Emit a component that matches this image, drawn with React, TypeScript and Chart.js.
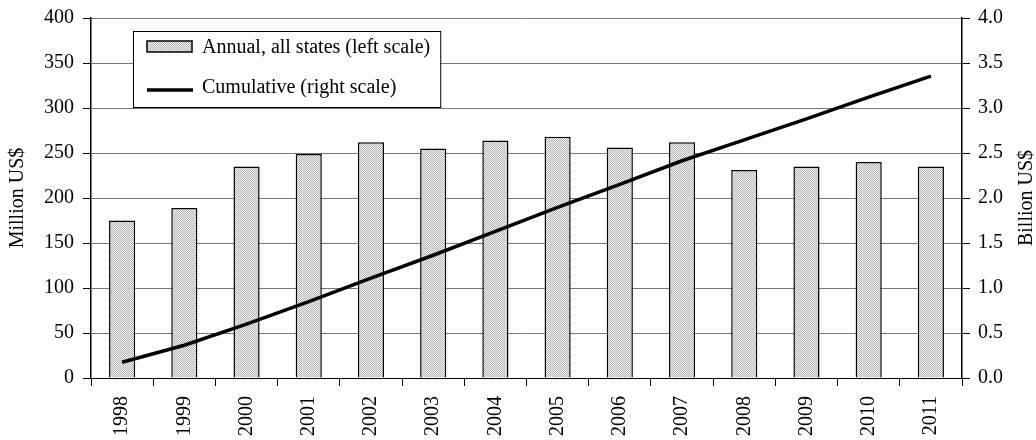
import React, { useEffect, useRef } from "react";
import { Chart, registerables } from "chart.js";

Chart.register(...registerables);

const years = ["1998", "1999", "2000", "2001", "2002", "2003", "2004", "2005", "2006", "2007", "2008", "2009", "2010", "2011"];
const annualMillion = [175, 189, 235, 249, 262, 255, 264, 268, 256, 262, 231, 235, 240, 235];
const cumulativeBillion = [0.175, 0.364, 0.599, 0.848, 1.11, 1.364, 1.628, 1.896, 2.152, 2.414, 2.645, 2.88, 3.12, 3.355];
const legendLabels = ["Annual, all states (left scale)", "Cumulative (right scale)"];
const axisTitles = ["Million US$", "Billion US$"];

const FONT = "'Liberation Serif', 'DejaVu Serif', serif";
const FS = 20;

function makePattern(): CanvasPattern | string {
  const c = document.createElement("canvas");
  c.width = 2;
  c.height = 2;
  const g = c.getContext("2d");
  if (!g) return "#d8d8d8";
  g.fillStyle = "#f2f2f2";
  g.fillRect(0, 0, 2, 2);
  g.fillStyle = "#b4b4b4";
  g.fillRect(0, 0, 1, 1);
  g.fillRect(1, 1, 1, 1);
  const p = g.createPattern(c, "repeat");
  return p || "#d8d8d8";
}

export default function App() {
  const ref = useRef<HTMLCanvasElement | null>(null);
  useEffect(() => {
    document.body.style.margin = "0";
    const canvas = ref.current;
    if (!canvas) return;
    const pattern = makePattern();

    const legendPlugin = {
      id: "boxLegend",
      afterDatasetsDraw(chart: any) {
        const ctx = chart.ctx as CanvasRenderingContext2D;
        ctx.save();
        ctx.font = `${FS}px ${FONT}`;
        const x0 = 133;
        const y0 = 31;
        const textX = 202;
        const w = Math.max(...legendLabels.map((l) => ctx.measureText(l).width));
        const bw = textX + w + 10 - x0;
        const bh = 76;
        ctx.fillStyle = "#ffffff";
        ctx.fillRect(x0, y0, bw, bh);
        ctx.strokeStyle = "#000000";
        ctx.lineWidth = 1;
        ctx.strokeRect(x0 + 0.5, y0 + 0.5, bw, bh);
        ctx.fillStyle = pattern as any;
        ctx.fillRect(147, 41, 45, 11);
        ctx.lineWidth = 1.5;
        ctx.strokeRect(147, 41, 45, 11);
        ctx.beginPath();
        ctx.lineWidth = 3.5;
        ctx.moveTo(147, 90);
        ctx.lineTo(193, 90);
        ctx.stroke();
        ctx.fillStyle = "#000000";
        ctx.textBaseline = "middle";
        ctx.fillText(legendLabels[0], textX, 48);
        ctx.fillText(legendLabels[1], textX, 88);
        ctx.restore();
      },
      afterDraw(chart: any) {
        const ctx = chart.ctx as CanvasRenderingContext2D;
        const area = chart.chartArea;
        const cy = (area.top + area.bottom) / 2;
        ctx.save();
        ctx.font = `${FS}px ${FONT}`;
        ctx.fillStyle = "#000000";
        ctx.textAlign = "center";
        ctx.textBaseline = "middle";
        ctx.translate(17.5, cy);
        ctx.rotate(-Math.PI / 2);
        ctx.fillText(axisTitles[0], 0, 0);
        ctx.restore();
        ctx.save();
        ctx.font = `${FS}px ${FONT}`;
        ctx.fillStyle = "#000000";
        ctx.textAlign = "center";
        ctx.textBaseline = "middle";
        ctx.translate(1027, cy);
        ctx.rotate(-Math.PI / 2);
        ctx.fillText(axisTitles[1], 0, 0);
        ctx.restore();
      },
    };

    const chart = new Chart(canvas, {
      type: "bar",
      data: {
        labels: years,
        datasets: [
          {
            type: "line",
            label: legendLabels[1],
            data: cumulativeBillion,
            yAxisID: "y1",
            borderColor: "#000000",
            borderWidth: 3.5,
            pointRadius: 0,
            tension: 0,
            fill: false,
            order: 0,
          } as any,
          {
            type: "bar",
            label: legendLabels[0],
            data: annualMillion,
            yAxisID: "y",
            backgroundColor: pattern as any,
            borderColor: "#000000",
            borderWidth: 1.5,
            categoryPercentage: 1,
            barPercentage: 0.42,
            order: 1,
          } as any,
        ],
      },
      options: {
        responsive: false,
        animation: false,
        devicePixelRatio: 1,
        layout: { padding: { top: 18, left: 0, right: 0, bottom: 0 } },
        plugins: {
          legend: { display: false },
          tooltip: { enabled: false },
        },
        scales: {
          x: {
            offset: true,
            grid: {
              offset: true,
              drawOnChartArea: false,
              drawTicks: true,
              tickLength: 8,
              color: "#000000",
            },
            border: { color: "#000000", width: 1 },
            ticks: {
              color: "#000000",
              font: { family: FONT, size: FS },
              maxRotation: 90,
              minRotation: 90,
              padding: 10,
            },
            afterFit(scale: any) {
              scale.height = 62;
            },
          },
          y: {
            position: "left",
            min: 0,
            max: 400,
            ticks: {
              stepSize: 50,
              color: "#000000",
              font: { family: FONT, size: FS, lineHeight: 0.8 },
              padding: 9,
            },
            grid: { color: "#777777", tickLength: 8, tickColor: "#000000" },
            border: { color: "#000000", width: 1.5 },
            afterFit(scale: any) {
              scale.width = 91;
            },
          },
          y1: {
            position: "right",
            min: 0,
            max: 4,
            ticks: {
              stepSize: 0.5,
              color: "#000000",
              font: { family: FONT, size: FS, lineHeight: 0.8 },
              padding: 8,
              callback: (v: any) => Number(v).toFixed(1),
            },
            grid: { drawOnChartArea: false, tickLength: 8, color: "#000000" },
            border: { color: "#000000", width: 1.5 },
            afterFit(scale: any) {
              scale.width = 74;
            },
          },
        },
      },
      plugins: [legendPlugin],
    });
    return () => chart.destroy();
  }, []);
  return (
    <div style={{ width: 1036, height: 440 }}>
      <canvas ref={ref} width={1036} height={440} style={{ display: "block" }} />
    </div>
  );
}
